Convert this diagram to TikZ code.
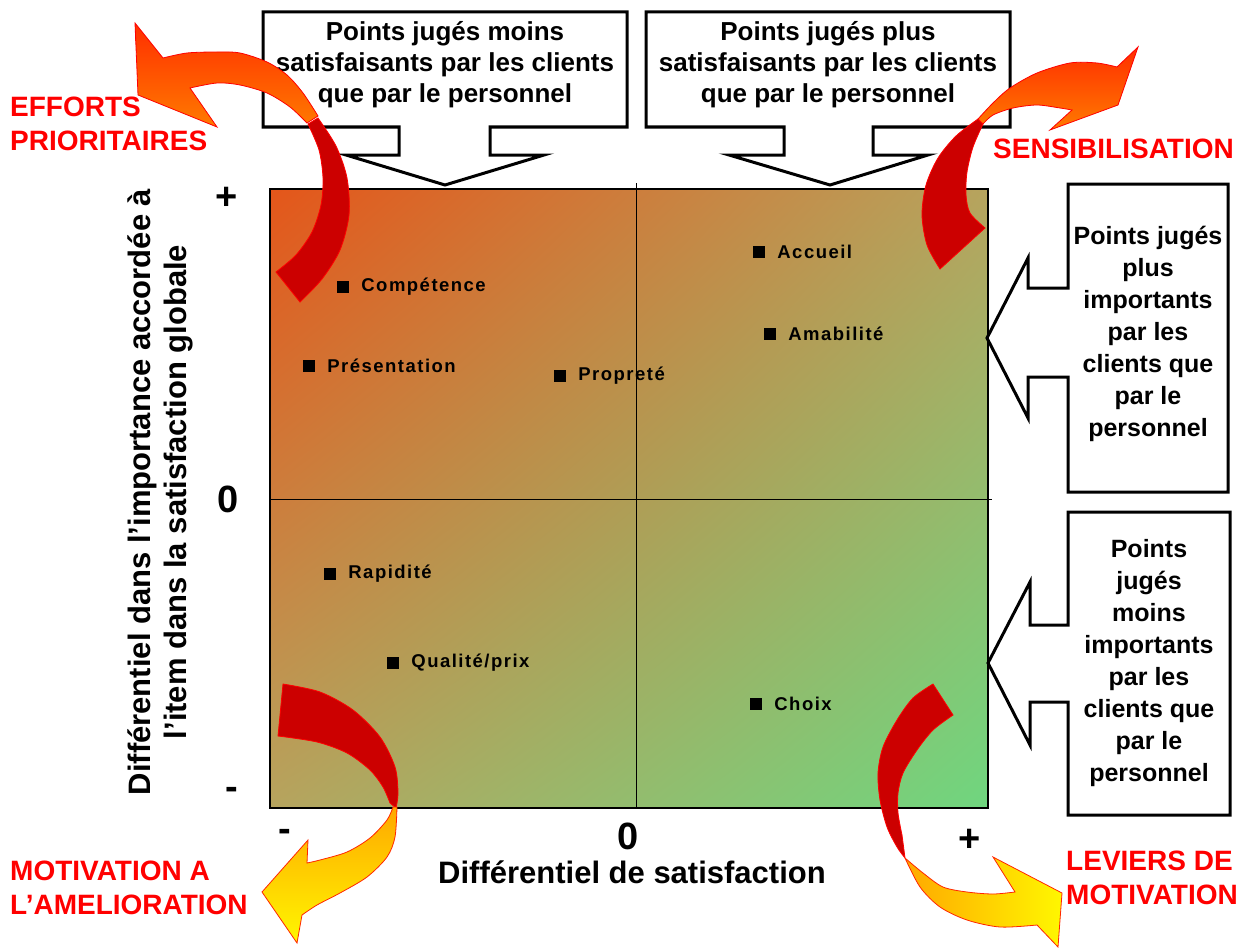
\documentclass[tikz,border=0pt]{standalone}
\usepackage{fontspec}
\setmainfont{Liberation Sans}
\newfontfamily\itemfont[LetterSpace=8]{Liberation Sans}
\usepackage{xcolor}
\usepackage{tikz}
\usetikzlibrary{positioning, shadings}
\definecolor{qorange}{HTML}{E4561A}
\definecolor{qolive}{HTML}{B6A45E}
\definecolor{qgreen}{HTML}{6FD67F}
\definecolor{qred}{HTML}{CC0000}
\definecolor{qtag}{HTML}{FF0000}
\definecolor{qflame}{HTML}{FF2E00}
\definecolor{qamber}{HTML}{FF7A00}
\definecolor{qgold}{HTML}{FFA800}
\definecolor{qyellow}{HTML}{FFF700}
\tikzset{
  callout/.style={draw=black, fill=white, line width=3pt, line join=miter},
  calltext/.style={font=\bfseries\fontsize{26}{31}\selectfont, align=center, inner sep=0},
  sidetext/.style={font=\bfseries\fontsize{25}{32}\selectfont, align=center, inner sep=0},
  itemdot/.style={fill=black, minimum size=12pt, inner sep=0},
  itemtext/.style={font=\itemfont\bfseries\fontsize{18.5}{19}\selectfont, inner sep=0},
  ticklbl/.style={font=\bfseries\fontsize{38}{38}\selectfont, inner sep=0,
                  text height=27pt, text depth=0pt},
  axistitle/.style={font=\bfseries\fontsize{31}{36}\selectfont, align=center, inner sep=0},
  tag/.style={text=qtag, font=\bfseries\fontsize{28}{34}\selectfont, align=left,
              inner sep=0, anchor=west},
  backface/.style={fill=qred, draw=red, line width=0.8pt},
  hotface/.style={top color=qflame, bottom color=qamber, draw=red, line width=0.8pt},
  sunface/.style={top color=qgold, bottom color=qyellow, draw=red!70!orange, line width=0.8pt},
  sunside/.style={left color=qgold, right color=qyellow, draw=red!70!orange, line width=0.8pt},
}

\begin{document}
\begin{tikzpicture}[x=1pt, y=-1pt]

  \fill[white] (0,0) rectangle (1249,947);
  \useasboundingbox (0,0) rectangle (1249,947);

  %% the matrix: gradient field, frame and axes
  \shade[upper left=qorange, upper right=qolive, lower left=qolive, lower right=qgreen]
    (270,189) rectangle (988,808);
  \draw[black, line width=1.2pt] (270,189) rectangle (988,808);
  \draw[black, line width=1pt] (636,183) -- (636,808);
  \draw[black, line width=1pt] (270,499) -- (992,499);

  %% items
  \foreach \nm/\px/\py/\txt in {
      competence/343/287/Compétence,
      presentation/309/366/Présentation,
      proprete/560/376/Propreté,
      accueil/759/252/Accueil,
      amabilite/770/334/Amabilité,
      rapidite/330/574/Rapidité,
      qualite/393/663/{Qualité/prix},
      choix/756/704/Choix} {
    \node[itemdot] (\nm) at (\px,\py) {};
    \node[itemtext, right=12pt of \nm] (\nm-lbl) {\txt};
  }

  %% scale marks
  \node[ticklbl] (yplus) at (227,196) {+};
  \node[ticklbl] (yzero) at (228,499) {0};
  \node[ticklbl] (yminus) at (232,786) {-};
  \node[ticklbl] (xminus) at (285,828) {-};
  \node[ticklbl] (xzero) at (628,836) {0};
  \node[ticklbl] (xplus) at (970,838) {+};

  %% axis titles
  \node[axistitle] (xtitle) at (632,872) {Différentiel de satisfaction};
  \node[axistitle, rotate=90] (ytitle) at (160,492)
    {Différentiel dans l’importance accordée à\\l’item dans la satisfaction globale};

  %% callouts above the matrix
  \draw[callout] (263,12) -- (627,12) -- (627,127) -- (490,127) -- (490,155) -- (544,155)
    -- (445,185) -- (346,155) -- (399,155) -- (399,127) -- (263,127) -- cycle;
  \node[calltext] (lessat) at (445,65)
    {Points jugés moins\\satisfaisants par les clients\\que par le personnel};

  \draw[callout] (646,12) -- (1010,12) -- (1010,127) -- (873,127) -- (873,155) -- (928,155)
    -- (830,185) -- (729,155) -- (784,155) -- (784,127) -- (646,127) -- cycle;
  \node[calltext] (moresat) at (828,65)
    {Points jugés plus\\satisfaisants par les clients\\que par le personnel};

  %% callouts right of the matrix
  \draw[callout] (1068,184) -- (1228,184) -- (1228,492) -- (1068,492) -- (1068,377)
    -- (1028,377) -- (1028,418) -- (987,338) -- (1028,258) -- (1028,288) -- (1068,288) -- cycle;
  \node[sidetext] (moreimp) at (1148,334)
    {Points jugés\\plus\\importants\\par les\\clients que\\par le\\personnel};

  \draw[callout] (1068,512) -- (1230,512) -- (1230,815) -- (1068,815) -- (1068,702)
    -- (1030,702) -- (1030,745) -- (988,663) -- (1030,582) -- (1030,625) -- (1068,625) -- cycle;
  \node[sidetext] (lessimp) at (1149,663)
    {Points\\jugés\\moins\\importants\\par les\\clients que\\par le\\personnel};

  %% quadrant tags
  \node[tag] (efforts) at (10,124) {EFFORTS\\PRIORITAIRES};
  \node[tag] (sensib) at (993,149) {SENSIBILISATION};
  \node[tag] (ameli) at (10,888) {MOTIVATION A\\L’AMELIORATION};
  \node[tag] (leviers) at (1066,878) {LEVIERS DE\\MOTIVATION};

  %% curved arrow -- efforts prioritaires
  \path[backface] plot[smooth] coordinates {(300,302) (322,279) (340,250) (349,215) (347,178) (336,146) (318,118)}
    -- plot[smooth] coordinates {(308,124) (319,150) (323,178) (321,205) (312,232) (296,255) (276,272)} -- cycle;
  \path[hotface] plot[smooth] coordinates {(318,116) (303,93) (287,75) (267,62) (240,53) (217,52) (187,53) (163,58)}
    -- (135,23) -- (138,95) -- (217,127) -- (190,88)
    -- plot[smooth] coordinates {(190,88) (217,83) (240,85) (267,93) (290,107) (307,123)} -- cycle;

  %% curved arrow -- sensibilisation
  \path[backface] plot[smooth] coordinates {(940,269) (927,245) (922,215) (926,185) (938,158) (956,136) (978,119)}
    -- plot[smooth] coordinates {(983,124) (973,147) (967,172) (966,195) (970,213) (985,228)} -- cycle;
  \path[hotface] plot[smooth] coordinates {(978,119) (993,103) (1010,88) (1037,73) (1070,63) (1097,63) (1117,67)}
    -- (1138,47) -- (1118,105) -- (1050,130) -- (1072,110)
    -- plot[smooth] coordinates {(1072,110) (1060,108) (1037,105) (1013,108) (993,115) (983,124)} -- cycle;

  %% curved arrow -- motivation a l'amelioration
  \path[backface] plot[smooth] coordinates {(283,684) (320,692) (353,710) (380,737) (395,767) (398,793) (396,808)}
    -- plot[smooth] coordinates {(390,803) (383,787) (370,770) (347,753) (317,742) (278,736)} -- cycle;
  \path[sunface] plot[smooth] coordinates {(397,807) (395,837) (387,857) (367,877) (340,893) (317,905) (302,915)}
    -- (297,943) -- (262,892) -- (308,840) -- (307,863)
    -- plot[smooth] coordinates {(307,863) (320,860) (347,852) (370,838) (387,820) (393,807)} -- cycle;

  %% curved arrow -- leviers de motivation
  \path[backface] plot[smooth] coordinates {(933,684) (913,698) (897,720) (883,747) (878,773) (880,800) (887,827) (897,847) (905,858)}
    -- plot[smooth] coordinates {(902,835) (898,813) (898,793) (903,773) (917,750) (933,730) (953,715)} -- cycle;
  \path[sunside] plot[smooth] coordinates {(905,858) (920,887) (940,907) (967,920) (1000,927) (1037,925)}
    -- (1058,947) -- (1062,893) -- (993,857) -- (1015,892)
    -- plot[smooth] coordinates {(1015,892) (993,894) (967,892) (943,887) (923,873) (905,858)} -- cycle;

\end{tikzpicture}
\end{document}
